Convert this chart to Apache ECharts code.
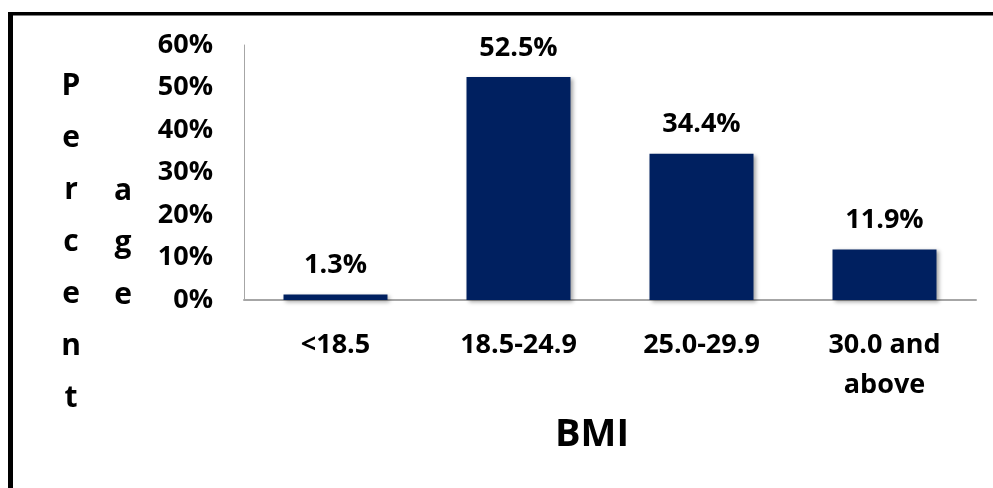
<!DOCTYPE html>
<html>
<head>
<meta charset="utf-8">
<script src="https://cdn.jsdelivr.net/npm/echarts@6/dist/echarts.min.js"></script>
<style>
html,body{margin:0;padding:0;background:#fff;}
#chart{width:993px;height:488px;}
</style>
</head>
<body>
<div id="chart"></div>
<script>
var categories = ['<18.5', '18.5-24.9', '25.0-29.9', '30.0 and\nabove'];
var values = [1.3, 52.5, 34.4, 11.9];
var yTickMax = 60;
var yTickStep = 10;
var yTitleCol1 = ['P', 'e', 'r', 'c', 'e', 'n', 't'];
var yTitleCol2 = ['a', 'g', 'e'];
var xTitle = 'BMI';

var FONT = '"Open Sans", "Noto Sans", sans-serif';
var chart = echarts.init(document.getElementById('chart'), null, {renderer: 'canvas'});
chart.setOption({
  backgroundColor: '#ffffff',
  animation: false,
  grid: {left: 244, right: 17, top: 45, bottom: 188},
  xAxis: {
    type: 'category',
    data: categories,
    axisLine: {lineStyle: {color: '#a6a6a6', width: 2}},
    axisTick: {show: false},
    axisLabel: {
      margin: 25,
      color: '#000',
      fontFamily: FONT,
      fontWeight: 'bold',
      fontSize: 27,
      lineHeight: 40,
      interval: 0
    },
    name: xTitle,
    nameLocation: 'middle',
    nameGap: 116,
    nameTextStyle: {
      color: '#000',
      fontFamily: FONT,
      fontWeight: 'bold',
      fontSize: 38,
      padding: [0, 36, 0, 0]
    }
  },
  yAxis: {
    type: 'value',
    min: 0,
    max: yTickMax,
    interval: yTickStep,
    splitLine: {show: false},
    axisLine: {show: true, lineStyle: {color: '#a6a6a6', width: 1}},
    axisTick: {show: false},
    axisLabel: {
      margin: 31,
      formatter: '{value}%',
      color: '#000',
      fontFamily: FONT,
      fontWeight: 'bold',
      fontSize: 27
    }
  },
  series: [{
    type: 'bar',
    data: values,
    barWidth: 104,
    itemStyle: {
      color: '#002060',
      shadowColor: 'rgba(0,0,0,0.35)',
      shadowBlur: 4,
      shadowOffsetX: 2,
      shadowOffsetY: 2
    },
    label: {
      show: true,
      position: 'top',
      distance: 14,
      formatter: '{c}%',
      color: '#000',
      fontFamily: FONT,
      fontWeight: 'bold',
      fontSize: 27,
      lineHeight: 30
    }
  }],
  graphic: [
    {type: 'rect', shape: {x: 8, y: 12, width: 5, height: 476}, style: {fill: '#000'}},
    {type: 'rect', shape: {x: 8, y: 12, width: 985, height: 3.5}, style: {fill: '#000'}},
    {type: 'text', x: 71, y: 60, style: {
      text: yTitleCol1.join('\n'), textAlign: 'center', textVerticalAlign: 'top',
      fill: '#000', font: 'bold 30px ' + FONT, lineHeight: 52
    }},
    {type: 'text', x: 123, y: 165, style: {
      text: yTitleCol2.join('\n'), textAlign: 'center', textVerticalAlign: 'top',
      fill: '#000', font: 'bold 30px ' + FONT, lineHeight: 52
    }}
  ]
});
</script>
</body>
</html>
